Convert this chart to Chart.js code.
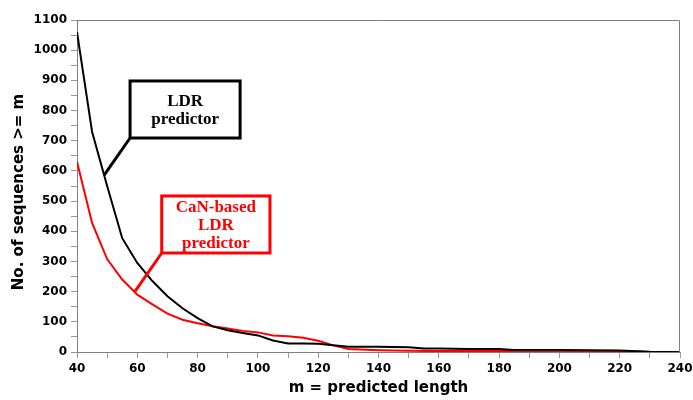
<!DOCTYPE html>
<html>
<head>
<meta charset="utf-8">
<script src="https://cdn.jsdelivr.net/npm/chart.js@4/dist/chart.umd.min.js"></script>
<style>
  html, body { margin: 0; padding: 0; background: #fff; }
  #wrap { width: 693px; height: 400px; }
</style>
</head>
<body>
<div id="wrap"><canvas id="chart" width="693" height="400"></canvas></div>
<script>
// m = predicted length
const ldrX = [40, 45, 50, 55, 60, 65, 70, 75, 80, 85, 90, 95, 100, 105, 110, 115, 120, 125, 130, 140, 150, 155, 160, 170, 180, 185, 200, 210, 220, 230, 240];
const ldrY = [1060, 730, 550, 377, 295, 235, 185, 145, 112, 85, 72, 63, 55, 38, 28, 28, 27, 22, 17, 17, 16, 12, 12, 10, 10, 7, 7, 6, 5, 1, 0];

const canX = [40, 45, 50, 55, 60, 65, 70, 75, 80, 85, 90, 95, 100, 105, 110, 115, 120, 125, 130, 140, 150, 160, 170, 180, 200, 220, 230, 240];
const canY = [630, 428, 308, 240, 190, 158, 127, 107, 95, 85, 78, 70, 65, 55, 52, 47, 37, 22, 10, 6, 4, 3, 3, 3, 3, 3, 0, 0];

const xTitle = "m = predicted length";
const yTitle = "No. of sequences >= m";

// callout boxes, placed in data units: [xLeft, xRight, yTop, yBottom], pointer tip [x, y]
const callouts = [
  { lines: ["LDR", "predictor"], color: "#000000", box: [57.6, 94.1, 898, 709], tip: [49, 586] },
  { lines: ["CaN-based", "LDR", "predictor"], color: "#ff0000", box: [68.1, 104.0, 517, 328], tip: [59.2, 200] }
];

const toPoints = (xs, ys) => xs.map((x, i) => ({ x: x, y: ys[i] }));

const extras = {
  id: "extras",
  afterDraw(chart) {
    const { ctx, chartArea: a, scales: { x, y } } = chart;
    ctx.save();
    // top and right frame
    ctx.strokeStyle = "#808080";
    ctx.lineWidth = 1;
    ctx.beginPath();
    ctx.moveTo(a.left, a.top + 0.5);
    ctx.lineTo(a.right - 0.5, a.top + 0.5);
    ctx.lineTo(a.right - 0.5, a.bottom);
    ctx.stroke();

    // y axis title
    ctx.fillStyle = "#000";
    ctx.font = "bold 15px 'DejaVu Sans'";
    ctx.textAlign = "center";
    ctx.textBaseline = "middle";
    ctx.translate(19, (a.top + a.bottom) / 2 + 6);
    ctx.rotate(-Math.PI / 2);
    ctx.fillText(yTitle, 0, 0);
    ctx.setTransform(1, 0, 0, 1, 0, 0);

    // callouts
    callouts.forEach(c => {
      const l = x.getPixelForValue(c.box[0]);
      const r = x.getPixelForValue(c.box[1]);
      const t = y.getPixelForValue(c.box[2]);
      const b = y.getPixelForValue(c.box[3]);
      const tx = x.getPixelForValue(c.tip[0]);
      const ty = y.getPixelForValue(c.tip[1]);
      ctx.strokeStyle = c.color;
      ctx.lineWidth = 3;
      ctx.fillStyle = "#fff";
      ctx.fillRect(l, t, r - l, b - t);
      ctx.strokeRect(l, t, r - l, b - t);
      ctx.beginPath();
      ctx.moveTo(l, b);
      ctx.lineTo(tx, ty);
      ctx.stroke();
      ctx.fillStyle = c.color;
      ctx.font = "bold 17px 'Liberation Serif'";
      ctx.textAlign = "center";
      ctx.textBaseline = "middle";
      const cx = (l + r) / 2, cy = (t + b) / 2;
      const lh = 18;
      c.lines.forEach((s, i) => {
        ctx.fillText(s, cx, cy + (i - (c.lines.length - 1) / 2) * lh + 1);
      });
    });
    ctx.restore();
  }
};

new Chart(document.getElementById("chart"), {
  type: "line",
  data: {
    datasets: [
      {
        label: "LDR predictor",
        data: toPoints(ldrX, ldrY),
        borderColor: "#000000",
        borderWidth: 2,
        pointRadius: 0,
        tension: 0
      },
      {
        label: "CaN-based LDR predictor",
        data: toPoints(canX, canY),
        borderColor: "#ff0000",
        borderWidth: 2,
        pointRadius: 0,
        tension: 0
      }
    ]
  },
  options: {
    responsive: false,
    animation: false,
    layout: { padding: { top: 20, right: 0, left: 0, bottom: 0 } },
    plugins: {
      legend: { display: false },
      tooltip: { enabled: false }
    },
    scales: {
      x: {
        type: "linear",
        min: 40,
        max: 240,
        afterFit: s => { s.height = 48; s.paddingRight = 13; },
        ticks: {
          stepSize: 10,
          autoSkip: false,
          maxRotation: 0,
          padding: 4,
          color: "#000",
          font: { family: "'DejaVu Sans'", weight: "bold", size: 12 },
          callback: v => (v % 20 === 0 ? v : "")
        },
        grid: { drawOnChartArea: false, color: "#999", tickLength: 6 },
        border: { color: "#808080" },
        title: {
          display: true,
          text: xTitle,
          color: "#000",
          font: { family: "'DejaVu Sans'", weight: "bold", size: 15 },
          padding: { top: 0, bottom: 3 }
        }
      },
      y: {
        min: 0,
        max: 1100,
        afterFit: s => { s.width = 77; },
        ticks: {
          stepSize: 50,
          autoSkip: false,
          padding: 4,
          color: "#000",
          font: { family: "'DejaVu Sans'", weight: "bold", size: 12 },
          callback: v => (v % 100 === 0 ? v : "")
        },
        grid: { drawOnChartArea: false, color: "#999", tickLength: 6 },
        border: { color: "#808080" }
      }
    }
  },
  plugins: [extras]
});
</script>
</body>
</html>
